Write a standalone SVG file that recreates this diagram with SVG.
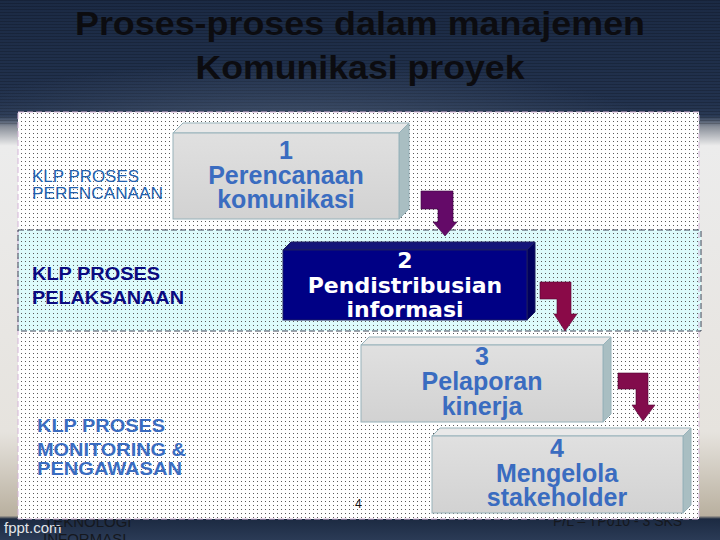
<svg xmlns="http://www.w3.org/2000/svg" width="720" height="540" viewBox="0 0 720 540">
<defs>
  <linearGradient id="bg" x1="0" y1="0" x2="0" y2="1">
    <stop offset="0" stop-color="#1b2a44"/>
    <stop offset="0.19" stop-color="#22324e"/>
    <stop offset="0.215" stop-color="#2a3a55"/>
    <stop offset="0.235" stop-color="#8a909a"/>
    <stop offset="0.27" stop-color="#ececec"/>
    <stop offset="0.8" stop-color="#e6e3de"/>
    <stop offset="0.955" stop-color="#b9b09f"/>
    <stop offset="0.961" stop-color="#1c2a42"/>
    <stop offset="1" stop-color="#2b3b56"/>
  </linearGradient>
  <radialGradient id="glow" cx="0.4" cy="1" r="0.5">
    <stop offset="0" stop-color="#5a6a82" stop-opacity="0.5"/>
    <stop offset="1" stop-color="#5a6a82" stop-opacity="0"/>
  </radialGradient>
  <pattern id="stripes" width="4" height="3" patternUnits="userSpaceOnUse">
    <rect width="4" height="1" fill="#000" fill-opacity="0.18"/>
  </pattern>
  <pattern id="dots" width="4" height="4" patternUnits="userSpaceOnUse">
    <rect x="1" y="1" width="1" height="1" fill="#5a5a5a"/>
  </pattern>
  <linearGradient id="grayFront" x1="0" y1="0" x2="0" y2="1">
    <stop offset="0" stop-color="#e0e0e0"/>
    <stop offset="1" stop-color="#d2d2d2"/>
  </linearGradient>
  <style>
    .title { font-family: "Liberation Sans", Arial, sans-serif; font-weight: bold; font-size: 33px; fill: #0c0c10; text-anchor: middle; }
    .gfront { fill: url(#grayFront); stroke: #97b2ba; stroke-width: 1; }
    .gtop { fill: #e9e9e9; stroke: #97b2ba; stroke-width: 1; }
    .gside { fill: #a9bec2; stroke: #97b2ba; stroke-width: 1; }
    .nfront { fill: #000085; stroke: #1c1c60; stroke-width: 1; }
    .ntop { fill: #14147a; stroke: #1c1c60; stroke-width: 1; }
    .nside { fill: #00005e; stroke: #1c1c60; stroke-width: 1; }
    .gtxt { font-family: "Liberation Sans", Arial, sans-serif; font-weight: bold; font-size: 25px; fill: #3a6cc0; text-anchor: middle; }
    .ntxt { font-family: "DejaVu Sans", Verdana, sans-serif; font-weight: bold; font-size: 22px; fill: #ffffff; text-anchor: middle; }
    .lbl { font-family: "Liberation Sans", Arial, sans-serif; }
    .foot { font-family: "Liberation Sans", Arial, sans-serif; fill: #15181e; }
  </style>
</defs>

<g id="background">
  <rect x="0" y="0" width="720" height="540" fill="url(#bg)"/>
  <rect x="0" y="0" width="720" height="125" fill="url(#stripes)"/>
  <rect x="0" y="0" width="720" height="125" fill="url(#glow)"/>
  <text class="foot" x="4" y="533" font-size="15" style="fill:#e4e6ea">fppt.com</text>
  <text class="foot" x="44" y="527" font-size="15">TEKNOLOGI</text>
  <text class="foot" x="43" y="544" font-size="15">INFORMASI</text>
  <text class="foot" x="553" y="526" font-size="14">P/L – TP010 - 3 SKS</text>
</g>

<g id="title">
  <text class="title" x="360" y="35" textLength="570" lengthAdjust="spacingAndGlyphs">Proses-proses dalam manajemen</text>
  <text class="title" x="360" y="79" textLength="329" lengthAdjust="spacingAndGlyphs">Komunikasi proyek</text>
</g>

<g id="panel">
  <rect x="18" y="112" width="681" height="407" fill="#ffffff"/>
  <rect x="18" y="230" width="683" height="101" fill="#ddfbfb"/>
  <rect x="18" y="112" width="681" height="407" fill="url(#dots)"/>
  <rect x="18" y="112" width="681" height="407" fill="none" stroke="#d4b4d8" stroke-width="1" stroke-dasharray="6,3"/>
  <rect x="18" y="230" width="683" height="101" fill="none" stroke="#3c4456" stroke-width="1" stroke-dasharray="6,3"/>
  <text x="355" y="508" font-family="Liberation Sans, Arial, sans-serif" font-size="12" fill="#111">4</text>
</g>

<g id="group-labels">
  <g id="label-perencanaan" class="lbl" fill="#2360ac" font-size="16">
    <text x="32" y="182" textLength="107" lengthAdjust="spacingAndGlyphs">KLP PROSES</text>
    <text x="32" y="199" textLength="131" lengthAdjust="spacingAndGlyphs">PERENCANAAN</text>
  </g>
  <g id="label-pelaksanaan" class="lbl" fill="#0a0a80" font-size="18" font-weight="bold">
    <text x="32" y="280" textLength="128" lengthAdjust="spacingAndGlyphs">KLP PROSES</text>
    <text x="32" y="304" textLength="152" lengthAdjust="spacingAndGlyphs">PELAKSANAAN</text>
  </g>
  <g id="label-monitoring" class="lbl" fill="#3a6cc0" font-size="19" font-weight="bold">
    <text x="37" y="432" textLength="128" lengthAdjust="spacingAndGlyphs">KLP PROSES</text>
    <text x="37" y="456" textLength="149" lengthAdjust="spacingAndGlyphs">MONITORING &amp;</text>
    <text x="37" y="475" textLength="145" lengthAdjust="spacingAndGlyphs">PENGAWASAN</text>
  </g>
</g>

<g id="node-1">
  <polygon class="gtop" points="173,133 183,123 409,123 399,133"/>
  <polygon class="gside" points="399,133 409,123 409,209 399,219"/>
  <rect class="gfront" x="173" y="133" width="226" height="86"/>
  <text class="gtxt" x="286" y="159">1</text>
  <text class="gtxt" x="286" y="184">Perencanaan</text>
  <text class="gtxt" x="286" y="208">komunikasi</text>
</g>

<g id="node-2">
  <polygon class="ntop" points="283,250 291,242 535,242 527,250"/>
  <polygon class="nside" points="527,250 535,242 535,312 527,320"/>
  <rect class="nfront" x="283" y="250" width="244" height="70"/>
  <text class="ntxt" x="405" y="268">2</text>
  <text class="ntxt" x="405" y="293">Pendistribusian</text>
  <text class="ntxt" x="405" y="317">informasi</text>
</g>

<g id="node-3">
  <polygon class="gtop" points="361,345 369,337 611,337 603,345"/>
  <polygon class="gside" points="603,345 611,337 611,414 603,422"/>
  <rect class="gfront" x="361" y="345" width="242" height="77"/>
  <text class="gtxt" x="482" y="365">3</text>
  <text class="gtxt" x="482" y="390">Pelaporan</text>
  <text class="gtxt" x="482" y="415">kinerja</text>
</g>

<g id="node-4">
  <polygon class="gtop" points="432,436 440,428 691,428 683,436"/>
  <polygon class="gside" points="683,436 691,428 691,505 683,513"/>
  <rect class="gfront" x="432" y="436" width="251" height="77"/>
  <text class="gtxt" x="557" y="457">4</text>
  <text class="gtxt" x="557" y="482">Mengelola</text>
  <text class="gtxt" x="557" y="506">stakeholder</text>
</g>

<g id="connectors" stroke-width="0.6" stroke-linejoin="miter">
  <path d="M421,191 H453 V222 H457 L445,236 L433,222 H438 V209 H421 Z" fill="#640a68" stroke="#3e0640"/>
  <path d="M540,282 H571 V314 H577 L565,331 L554,314 H557 V299 H540 Z" fill="#8a0a48" stroke="#550430"/>
  <path d="M618,373 H648 V405 H655 L643,421 L632,405 H636 V389 H618 Z" fill="#820c4c" stroke="#500432"/>
</g>
</svg>
